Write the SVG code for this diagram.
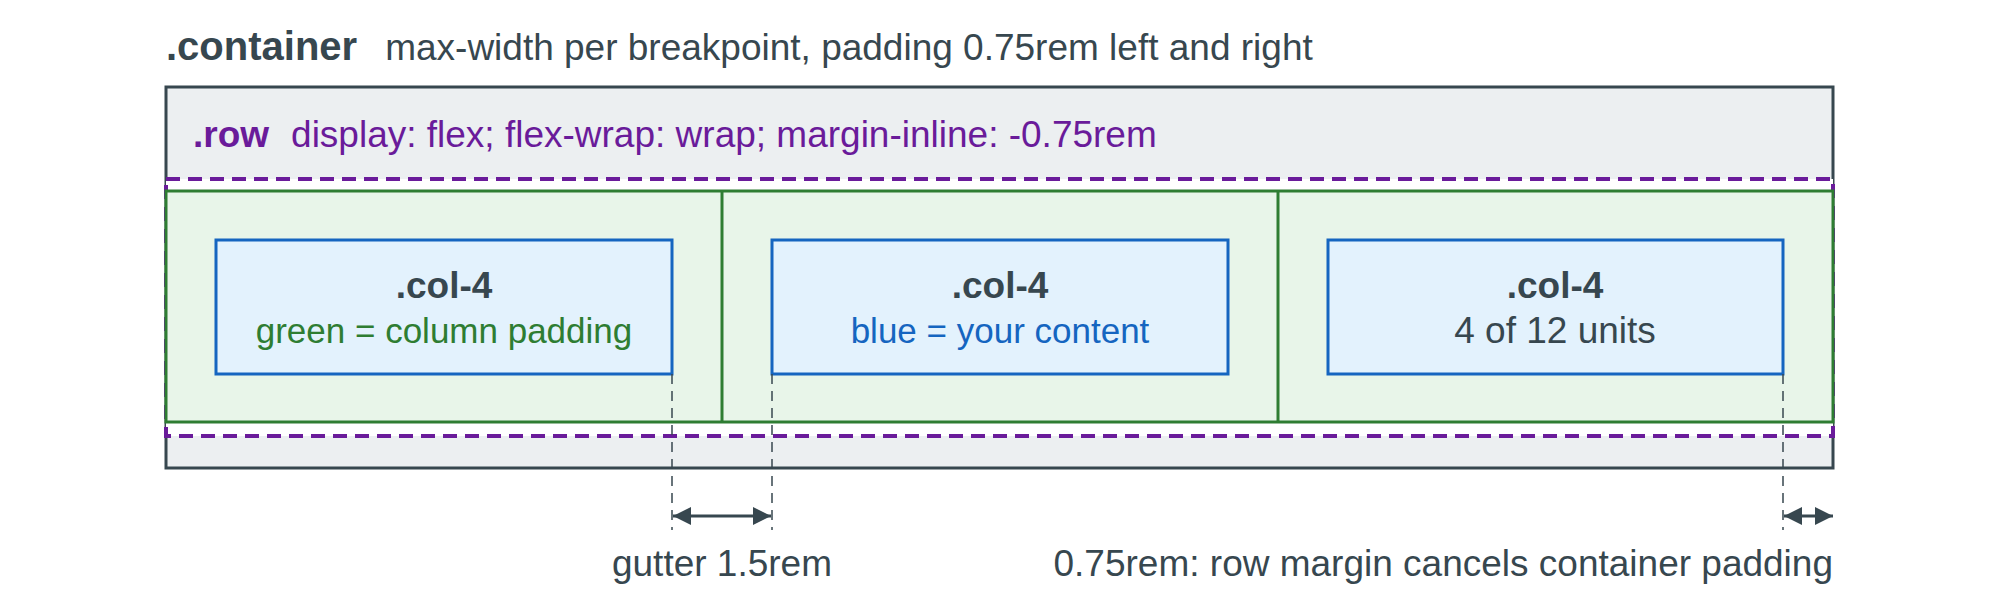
<svg xmlns="http://www.w3.org/2000/svg" width="2000" height="600" viewBox="0 0 2000 600">
<style>
text{font-family:"Liberation Sans",Arial,sans-serif}
.t{font-size:37px;fill:#37474f}
.b{font-weight:bold}
.col{fill:#e3f2fd;stroke:#1565c0;stroke-width:3}
.guide{stroke:#37474f;stroke-width:1.5;stroke-dasharray:10 7}
.dim{stroke:#37474f;stroke-width:3}
</style>
<defs>
<marker id="ah" viewBox="0 0 10 10" refX="10" refY="5" markerWidth="6" markerHeight="6" orient="auto-start-reverse"><path d="M0,0L10,5L0,10z" fill="#37474f"/></marker>
</defs>
<rect width="2000" height="600" fill="#fff"/>
<g id="container">
<text class="t" x="166" y="60"><tspan class="b" font-size="40">.container</tspan><tspan dx="28">max-width per breakpoint, padding 0.75rem left and right</tspan></text>
<rect x="166" y="87" width="1667" height="381" fill="#eceff1" stroke="#37474f" stroke-width="3"/>
</g>
<g id="row">
<text x="193" y="147" font-size="37" fill="#6a1b9a"><tspan class="b">.row</tspan><tspan dx="22">display: flex; flex-wrap: wrap; margin-inline: -0.75rem</tspan></text>
<rect x="166" y="179" width="1667" height="257" fill="#fff" stroke="#6a1b9a" stroke-width="4" stroke-dasharray="14 8"/>
<rect x="166" y="191" width="1667" height="231" fill="#e8f5e9" stroke="#2e7d32" stroke-width="3"/>
<line x1="722" y1="191" x2="722" y2="422" stroke="#2e7d32" stroke-width="3"/>
<line x1="1278" y1="191" x2="1278" y2="422" stroke="#2e7d32" stroke-width="3"/>
</g>
<g id="col1"><rect class="col" x="216" y="240" width="456" height="134"/>
<text class="t b" x="444" y="298" font-size="34" text-anchor="middle">.col-4</text>
<text x="444" y="343" font-size="35" fill="#2e7d32" text-anchor="middle">green = column padding</text></g>
<g id="col2"><rect class="col" x="772" y="240" width="456" height="134"/>
<text class="t b" x="1000" y="298" font-size="34" text-anchor="middle">.col-4</text>
<text x="1000" y="343" font-size="35" fill="#1565c0" text-anchor="middle">blue = your content</text></g>
<g id="col3"><rect class="col" x="1328" y="240" width="455" height="134"/>
<text class="t b" x="1555" y="298" font-size="34" text-anchor="middle">.col-4</text>
<text class="t" x="1555" y="343" font-size="35" text-anchor="middle">4 of 12 units</text></g>
<g id="connectors">
<line class="guide" x1="672" y1="374" x2="672" y2="530"/>
<line class="guide" x1="772" y1="374" x2="772" y2="530"/>
<line class="guide" x1="1783" y1="374" x2="1783" y2="530"/>
<line class="dim" x1="673" y1="516" x2="771" y2="516" marker-start="url(#ah)" marker-end="url(#ah)"/>
<line class="dim" x1="1784" y1="516" x2="1833" y2="516" marker-start="url(#ah)" marker-end="url(#ah)"/>
</g>
<g id="labels">
<text class="t" x="722" y="576" text-anchor="middle">gutter 1.5rem</text>
<text class="t" x="1833" y="576" text-anchor="end">0.75rem: row margin cancels container padding</text>
</g>
</svg>
